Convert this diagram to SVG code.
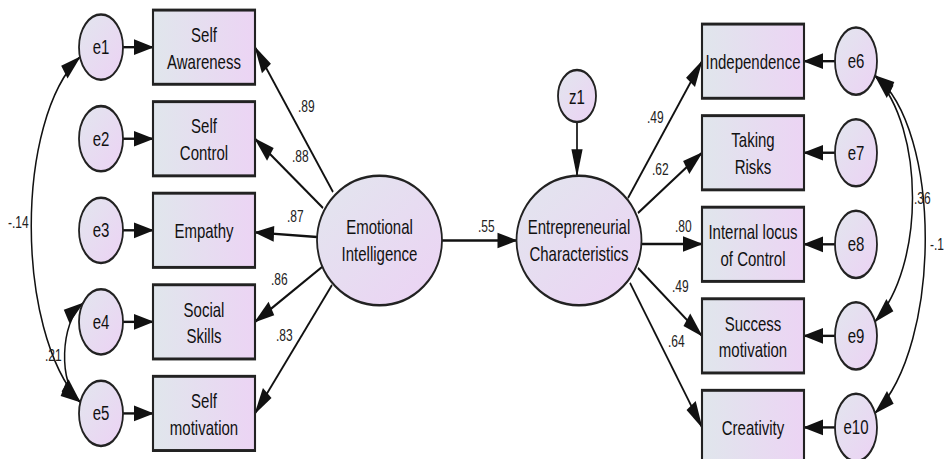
<svg xmlns="http://www.w3.org/2000/svg" width="944" height="459" viewBox="0 0 944 459">
  <defs>
    <linearGradient id="boxFill" x1="0" y1="0" x2="1" y2="0">
      <stop offset="0" stop-color="#e0e6ec"/>
      <stop offset="1" stop-color="#ecd4f4"/>
    </linearGradient>
    <linearGradient id="ovalFill" x1="0" y1="0" x2="1" y2="1">
      <stop offset="0" stop-color="#e2e6ee"/>
      <stop offset="1" stop-color="#ecd2f4"/>
    </linearGradient>
    <marker id="arrow" markerUnits="userSpaceOnUse" viewBox="0 0 20 11.2" refX="19" refY="5.6" markerWidth="20" markerHeight="11.2" orient="auto-start-reverse" overflow="visible">
      <path d="M0,0 L20,5.6 L0,11.2 z" fill="#111"/>
    </marker>
    <style>
      .box{fill:url(#boxFill);stroke:#222;stroke-width:2.1}
      .oval{fill:url(#ovalFill);stroke:#222;stroke-width:1.8}
      .lbl{font-family:"Liberation Sans",Arial,sans-serif;font-size:15px;fill:#111;text-anchor:middle}
      .num{font-family:"Liberation Sans",Arial,sans-serif;font-size:12px;fill:#222}
      .edge{fill:none;stroke:#111;stroke-width:1.7;marker-end:url(#arrow)}
      .cov{fill:none;stroke:#111;stroke-width:1.5;marker-start:url(#arrow);marker-end:url(#arrow)}
    </style>
  </defs>
  <rect width="944" height="459" fill="#fff"/>
  <!-- model drawn in a compact frame, stretched vertically -->
  <g transform="scale(1,1.4)">
    <!-- connectors -->
    <g id="connectors">
      <!-- error terms to indicators -->
      <path class="edge" d="M123 33.7 L153 33.7"/>
      <path class="edge" d="M123 99.1 L153 99.1"/>
      <path class="edge" d="M123 164.5 L153 164.5"/>
      <path class="edge" d="M123 229.9 L153 229.9"/>
      <path class="edge" d="M123 295.3 L153 295.3"/>
      <path class="edge" d="M835 43.7 L804 43.7"/>
      <path class="edge" d="M835 109.1 L804 109.1"/>
      <path class="edge" d="M835 174.5 L804 174.5"/>
      <path class="edge" d="M835 239.9 L804 239.9"/>
      <path class="edge" d="M835 305.3 L804 305.3"/>
      <!-- loadings of Emotional Intelligence -->
      <path class="edge" d="M333 137.1 L255 33.7"/>
      <path class="edge" d="M323 148.6 L255 99.1"/>
      <path class="edge" d="M317 169.3 L255 166"/>
      <path class="edge" d="M322 190.7 L255 229.9"/>
      <path class="edge" d="M332 203.6 L255 295.3"/>
      <!-- loadings of Entrepreneurial Characteristics -->
      <path class="edge" d="M628 141.4 L702 43.7"/>
      <path class="edge" d="M638 152.1 L702 109.1"/>
      <path class="edge" d="M642 174.3 L702 174.3"/>
      <path class="edge" d="M638 191.4 L702 239.9"/>
      <path class="edge" d="M630 202.1 L702 305.3"/>
      <!-- structural path and disturbance -->
      <path class="edge" d="M442 171.8 L516.5 171.8"/>
      <path class="edge" d="M577 87.2 L577 125.6"/>
      <!-- covariances -->
      <path class="cov" d="M80 40.7 C15 85.7 15 235.7 80 287.1"/>
      <path class="cov" d="M83 216.5 C60 230 58 275 80 287.1"/>
      <path class="cov" d="M875 54 C925 92 925 190 875 229.7"/>
      <path class="cov" d="M875 54 C942 92 942 246 875 295.1"/>
      <!-- coefficients -->
      <text class="num" x="298" y="80">.89</text>
      <text class="num" x="292" y="115.7">.88</text>
      <text class="num" x="287" y="158.6">.87</text>
      <text class="num" x="271" y="203.6">.86</text>
      <text class="num" x="276" y="243.6">.83</text>
      <text class="num" x="8" y="162.9">-.14</text>
      <text class="num" x="45" y="257.9">.21</text>
      <text class="num" x="478" y="165.7">.55</text>
      <text class="num" x="647" y="87.9">.49</text>
      <text class="num" x="652" y="125">.62</text>
      <text class="num" x="675" y="165.7">.80</text>
      <text class="num" x="672" y="208.6">.49</text>
      <text class="num" x="668" y="247.9">.64</text>
      <text class="num" x="914" y="145.7">.36</text>
      <text class="num" x="930" y="178.6">-.12</text>
    </g>

    <!-- Emotional Intelligence indicators -->
    <g id="self-awareness"><rect class="box" x="153" y="7.2" width="102" height="53"/><text class="lbl" x="204" y="29.9">Self</text><text class="lbl" x="204" y="49.1">Awareness</text></g>
    <g id="self-control"><rect class="box" x="153" y="72.6" width="102" height="53"/><text class="lbl" x="204" y="95.3">Self</text><text class="lbl" x="204" y="114.5">Control</text></g>
    <g id="empathy"><rect class="box" x="153" y="138" width="102" height="53"/><text class="lbl" x="204" y="169.9">Empathy</text></g>
    <g id="social-skills"><rect class="box" x="153" y="203.4" width="102" height="53"/><text class="lbl" x="204" y="226.1">Social</text><text class="lbl" x="204" y="245.3">Skills</text></g>
    <g id="self-motivation"><rect class="box" x="153" y="268.8" width="102" height="53"/><text class="lbl" x="204" y="291.5">Self</text><text class="lbl" x="204" y="310.7">motivation</text></g>

    <!-- left error terms -->
    <g id="e1"><ellipse class="oval" cx="101" cy="33.7" rx="22" ry="23.3"/><text class="lbl" x="101" y="38.7">e1</text></g>
    <g id="e2"><ellipse class="oval" cx="101" cy="99.1" rx="22" ry="23.3"/><text class="lbl" x="101" y="104.1">e2</text></g>
    <g id="e3"><ellipse class="oval" cx="101" cy="164.5" rx="22" ry="23.3"/><text class="lbl" x="101" y="169.5">e3</text></g>
    <g id="e4"><ellipse class="oval" cx="101" cy="229.9" rx="22" ry="23.3"/><text class="lbl" x="101" y="234.9">e4</text></g>
    <g id="e5"><ellipse class="oval" cx="101" cy="295.3" rx="22" ry="23.3"/><text class="lbl" x="101" y="300.3">e5</text></g>

    <!-- latent variables -->
    <g id="emotional-intelligence"><ellipse class="oval" cx="379.5" cy="171.8" rx="62.5" ry="46.2"/><text class="lbl" x="379.5" y="167">Emotional</text><text class="lbl" x="379.5" y="186.3">Intelligence</text></g>
    <g id="entrepreneurial-characteristics"><ellipse class="oval" cx="579" cy="171.8" rx="62.5" ry="46.2"/><text class="lbl" x="579" y="167.5">Entrepreneurial</text><text class="lbl" x="579" y="186.5">Characteristics</text></g>
    <g id="z1"><ellipse class="oval" cx="577" cy="68.6" rx="19" ry="18.6"/><text class="lbl" x="577" y="74">z1</text></g>

    <!-- Entrepreneurial Characteristics indicators -->
    <g id="independence"><rect class="box" x="702" y="17.2" width="102" height="53"/><text class="lbl" x="753" y="49.1">Independence</text></g>
    <g id="taking-risks"><rect class="box" x="702" y="82.6" width="102" height="53"/><text class="lbl" x="753" y="105.3">Taking</text><text class="lbl" x="753" y="124.5">Risks</text></g>
    <g id="internal-locus"><rect class="box" x="702" y="148" width="102" height="53"/><text class="lbl" x="753" y="170.7">Internal locus</text><text class="lbl" x="753" y="189.9">of Control</text></g>
    <g id="success-motivation"><rect class="box" x="702" y="213.4" width="102" height="53"/><text class="lbl" x="753" y="236.1">Success</text><text class="lbl" x="753" y="255.3">motivation</text></g>
    <g id="creativity"><rect class="box" x="702" y="278.8" width="102" height="53"/><text class="lbl" x="753" y="310.7">Creativity</text></g>

    <!-- right error terms -->
    <g id="e6"><ellipse class="oval" cx="856" cy="43.7" rx="21" ry="24"/><text class="lbl" x="856" y="48.7">e6</text></g>
    <g id="e7"><ellipse class="oval" cx="856" cy="109.1" rx="21" ry="24"/><text class="lbl" x="856" y="114.1">e7</text></g>
    <g id="e8"><ellipse class="oval" cx="856" cy="174.5" rx="21" ry="24"/><text class="lbl" x="856" y="179.5">e8</text></g>
    <g id="e9"><ellipse class="oval" cx="856" cy="239.9" rx="21" ry="24"/><text class="lbl" x="856" y="244.9">e9</text></g>
    <g id="e10"><ellipse class="oval" cx="856" cy="305.3" rx="21" ry="24"/><text class="lbl" x="856" y="310.3">e10</text></g>
  </g>
</svg>
